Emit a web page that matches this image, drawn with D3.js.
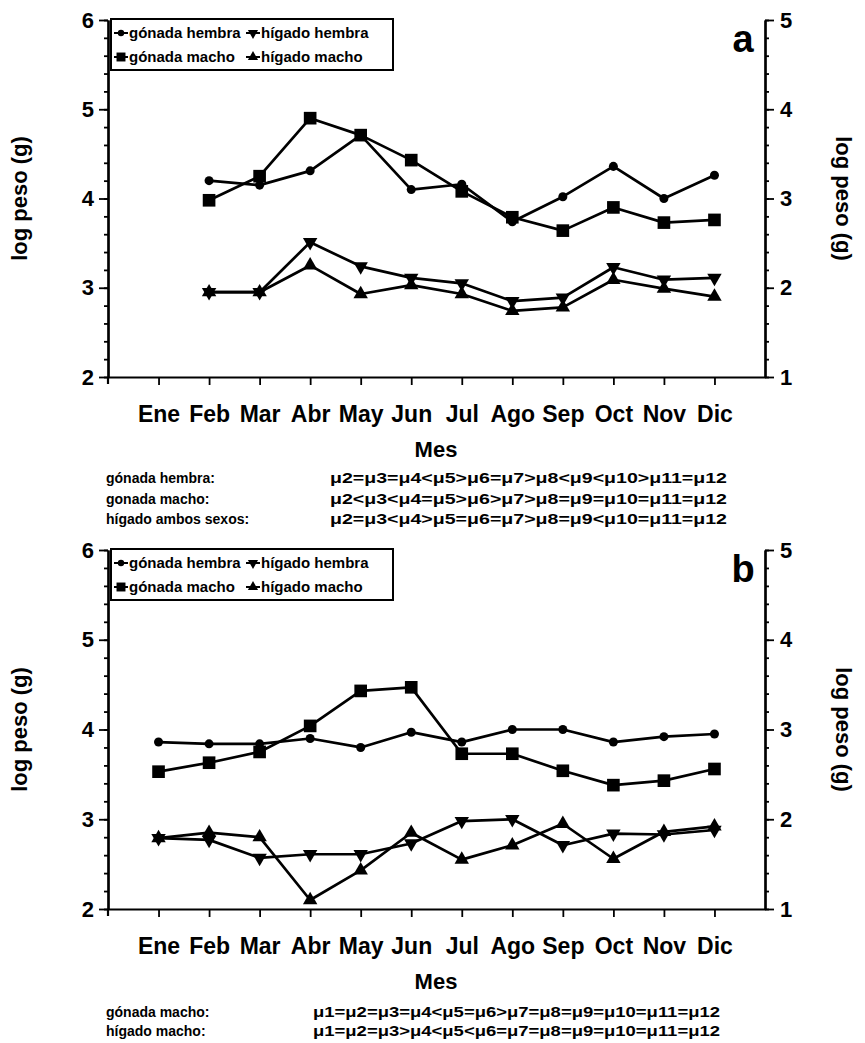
<!DOCTYPE html>
<html>
<head>
<meta charset="utf-8">
<script src="https://cdn.jsdelivr.net/npm/d3@7"></script>
<style>
  body { margin: 0; background: #fff; }
  svg { font-family: "Liberation Sans", Arial, sans-serif; font-weight: bold; }
</style>
</head>
<body>
<svg id="fig"></svg>
<script>
// meses (posicion 1..12 en el eje x)
const meses = ['Ene', 'Feb', 'Mar', 'Abr', 'May', 'Jun', 'Jul', 'Ago', 'Sep', 'Oct', 'Nov', 'Dic'];
const ticksIzq = [2, 3, 4, 5, 6];
const ticksDer = [1, 2, 3, 4, 5];

// panel a: sin dato en Ene
const gonadaHembraA = [null, 4.20, 4.15, 4.31, 4.71, 4.10, 4.16, 3.74, 4.02, 4.36, 4.00, 4.26];
const gonadaMachoA  = [null, 3.98, 4.25, 4.90, 4.71, 4.43, 4.08, 3.79, 3.64, 3.90, 3.73, 3.76];
const higadoHembraA = [null, 2.95, 2.95, 3.51, 3.24, 3.11, 3.05, 2.85, 2.89, 3.23, 3.09, 3.11];
const higadoMachoA  = [null, 2.95, 2.95, 3.25, 2.93, 3.03, 2.93, 2.74, 2.78, 3.09, 2.99, 2.90];

// panel b
const gonadaHembraB = [3.86, 3.84, 3.84, 3.90, 3.80, 3.97, 3.86, 4.00, 4.00, 3.86, 3.92, 3.95];
const gonadaMachoB  = [3.53, 3.63, 3.75, 4.04, 4.43, 4.47, 3.73, 3.73, 3.54, 3.38, 3.43, 3.56];
const higadoHembraB = [2.79, 2.77, 2.57, 2.61, 2.61, 2.73, 2.98, 3.00, 2.71, 2.84, 2.83, 2.88];
const higadoMachoB  = [2.79, 2.85, 2.80, 2.10, 2.43, 2.85, 2.55, 2.71, 2.95, 2.56, 2.86, 2.92];

const nombres = ['gónada hembra', 'hígado hembra', 'gónada macho', 'hígado macho'];

const notasA = [
  ['gónada hembra:', 'μ2=μ3=μ4<μ5>μ6=μ7>μ8<μ9<μ10>μ11=μ12'],
  ['gonada macho:', 'μ2<μ3<μ4=μ5>μ6>μ7>μ8=μ9=μ10=μ11=μ12'],
  ['hígado ambos sexos:', 'μ2=μ3<μ4>μ5=μ6=μ7>μ8=μ9<μ10=μ11=μ12']
];
const notasB = [
  ['gónada macho:', 'μ1=μ2=μ3=μ4<μ5=μ6>μ7=μ8=μ9=μ10=μ11=μ12'],
  ['hígado macho:', 'μ1=μ2=μ3>μ4<μ5<μ6=μ7=μ8=μ9=μ10=μ11=μ12']
];

const svg = d3.select('#fig').attr('width', 865).attr('height', 1043);

class Panel {
  constructor(config) {
    this.config = {
      parent: config.parent,
      top: config.top,
      height: config.height,
      letra: config.letra,
      series: config.series,
      notas: config.notas,
      notaX: config.notaX,
      notaFin: config.notaFin,
      notaY: config.notaY,
      notaPaso: config.notaPaso
    };
    this.init();
  }

  init() {
    let self = this;
    self.chart = self.config.parent.append('g')
      .attr('transform', `translate(0,${self.config.top})`);

    self.xscale = d3.scaleLinear().domain([0, 13]).range([108, 765]);
    self.yscale = d3.scaleLinear().domain([2, 6]).range([self.config.height, 0]);
    self.yscale2 = d3.scaleLinear().domain([1, 5]).range([self.config.height, 0]);
    self.render();
  }

  render() {
    let self = this;
    const h = self.config.height;

    // ejes y: menores cada 0.2
    const menores = d3.range(2, 6.001, 0.2).map(v => +v.toFixed(1));
    const menores2 = d3.range(1, 5.001, 0.2).map(v => +v.toFixed(1));

    const izq = self.chart.append('g').attr('transform', 'translate(108,0)');
    izq.append('g').call(d3.axisLeft(self.yscale).tickValues(menores).tickSize(4).tickFormat('').tickSizeOuter(0));
    izq.append('g').call(d3.axisLeft(self.yscale).tickValues(ticksIzq).tickSize(9).tickPadding(5)
      .tickFormat(d3.format('d')).tickSizeOuter(0));

    const der = self.chart.append('g').attr('transform', 'translate(765,0)');
    der.append('g').call(d3.axisRight(self.yscale2).tickValues(menores2).tickSize(4).tickFormat('').tickSizeOuter(0));
    der.append('g').call(d3.axisRight(self.yscale2).tickValues(ticksDer).tickSize(9).tickPadding(6)
      .tickFormat(d3.format('d')).tickSizeOuter(0));

    const inf = self.chart.append('g').attr('transform', `translate(0,${h})`);
    inf.call(d3.axisBottom(self.xscale).tickValues(d3.range(1, 13)).tickSize(8).tickPadding(21)
      .tickFormat(d => meses[d - 1]).tickSizeOuter(0));

    self.chart.selectAll('.domain').attr('stroke', '#000').attr('stroke-width', 2.2);
    self.chart.selectAll('.tick line').attr('stroke', '#000').attr('stroke-width', 1.8);
    self.chart.selectAll('.tick text').attr('fill', '#000').attr('font-size', 22)
      .attr('font-family', '"Liberation Sans", Arial, sans-serif').attr('font-weight', 'bold');
    inf.selectAll('.tick text').attr('font-size', 23);
    // el eje izquierdo baja un poco bajo el eje x
    self.chart.append('line').attr('x1', 108).attr('x2', 108).attr('y1', h).attr('y2', h + 7)
      .attr('stroke', '#000').attr('stroke-width', 2.2);

    // series
    const line = d3.line()
      .defined(d => d.v != null)
      .x(d => self.xscale(d.m))
      .y(d => self.yscale(d.v));

    self.config.series.forEach(s => {
      const pts = s.values.map((v, i) => ({ m: i + 1, v: v }));
      self.chart.append('path')
        .datum(pts)
        .attr('fill', 'none')
        .attr('stroke', '#000')
        .attr('stroke-width', 2.7)
        .attr('stroke-linejoin', 'round')
        .attr('d', line);
      self.chart.selectAll(null)
        .data(pts.filter(d => d.v != null))
        .enter()
        .append('path')
        .attr('d', d3.symbol().type(s.symbol).size(s.size))
        .attr('transform', d => `translate(${self.xscale(d.m)},${self.yscale(d.v)}) rotate(${s.rot})`)
        .attr('fill', '#000');
    });

    // leyenda
    const lg = self.chart.append('g').attr('transform', 'translate(111,-1)');
    lg.append('rect').attr('width', 282).attr('height', 51)
      .attr('fill', '#fff').attr('stroke', '#000').attr('stroke-width', 2);
    const items = [
      { s: self.config.series[0], x: 10, y: 14, t: nombres[0] },
      { s: self.config.series[2], x: 142, y: 14, t: nombres[1] },
      { s: self.config.series[1], x: 10, y: 38, t: nombres[2] },
      { s: self.config.series[3], x: 142, y: 38, t: nombres[3] }
    ];
    items.forEach(it => {
      lg.append('line').attr('x1', it.x - 7).attr('x2', it.x + 7)
        .attr('y1', it.y).attr('y2', it.y).attr('stroke', '#000').attr('stroke-width', 2);
      lg.append('path')
        .attr('d', d3.symbol().type(it.s.symbol).size(it.s.size * 0.5))
        .attr('transform', `translate(${it.x},${it.y}) rotate(${it.s.rot})`);
      lg.append('text').attr('x', it.x + 8).attr('y', it.y + 5)
        .attr('font-size', 15).text(it.t);
    });

    // letra del panel
    self.chart.append('text').attr('x', 743).attr('y', 32)
      .attr('text-anchor', 'middle').attr('font-size', 38).text(self.config.letra);

    // titulos de ejes
    self.chart.append('text')
      .attr('transform', `translate(27,${h / 2}) rotate(-90)`)
      .attr('text-anchor', 'middle').attr('font-size', 22).text('log peso (g)');
    self.chart.append('text')
      .attr('transform', `translate(836,${h / 2}) rotate(90)`)
      .attr('text-anchor', 'middle').attr('font-size', 22).text('log peso (g)');
    self.chart.append('text')
      .attr('x', 436).attr('y', h + 80)
      .attr('text-anchor', 'middle').attr('font-size', 22).text('Mes');

    // notas
    self.config.notas.forEach((n, i) => {
      const y = h + self.config.notaY + i * self.config.notaPaso;
      self.chart.append('text').attr('x', 106).attr('y', y).attr('font-size', 14).text(n[0]);
      self.chart.append('text').attr('x', self.config.notaX).attr('y', y).attr('font-size', 14)
        .attr('textLength', self.config.notaFin - self.config.notaX).attr('lengthAdjust', 'spacingAndGlyphs')
        .text(n[1]);
    });
  }
}

const serieA = [
  { values: gonadaHembraA, symbol: d3.symbolCircle, size: 64, rot: 0 },
  { values: gonadaMachoA, symbol: d3.symbolSquare, size: 160, rot: 0 },
  { values: higadoHembraA, symbol: d3.symbolTriangle, size: 90, rot: 180 },
  { values: higadoMachoA, symbol: d3.symbolTriangle, size: 90, rot: 0 }
];
const serieB = [
  { values: gonadaHembraB, symbol: d3.symbolCircle, size: 64, rot: 0 },
  { values: gonadaMachoB, symbol: d3.symbolSquare, size: 160, rot: 0 },
  { values: higadoHembraB, symbol: d3.symbolTriangle, size: 90, rot: 180 },
  { values: higadoMachoB, symbol: d3.symbolTriangle, size: 90, rot: 0 }
];

new Panel({ parent: svg, top: 20, height: 357, letra: 'a', series: serieA,
  notas: notasA, notaX: 330, notaFin: 727, notaY: 106, notaPaso: 20.5 });
new Panel({ parent: svg, top: 550, height: 359, letra: 'b', series: serieB,
  notas: notasB, notaX: 313, notaFin: 720, notaY: 108, notaPaso: 18.5 });
</script>
</body>
</html>
